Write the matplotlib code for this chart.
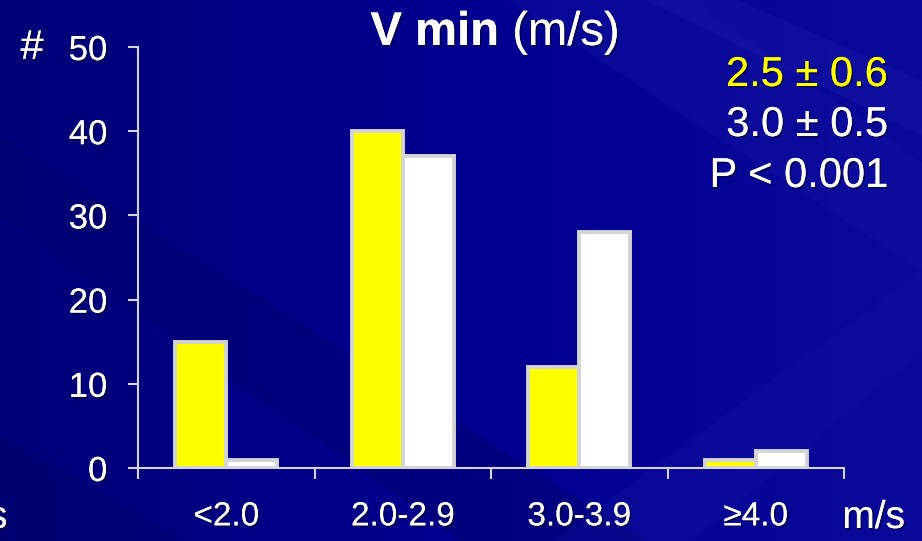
import numpy as np
import matplotlib
matplotlib.use("Agg")
import matplotlib.pyplot as plt
from matplotlib.patches import Polygon
import matplotlib.patheffects as pe

# data
categories = ["<2.0", "2.0-2.9", "3.0-3.9", "≥4.0"]
yellow_vals = [15, 40, 12, 1]
white_vals = [1, 37, 28, 2]
y_ticks = [0, 10, 20, 30, 40, 50]

plt.rcParams['font.family'] = ['Liberation Sans', 'DejaVu Sans']

fig = plt.figure(figsize=(9.22, 5.41), dpi=100)
fig.patch.set_facecolor('#00008a')

# background with diagonal streaks
bg = fig.add_axes([0, 0, 1, 1], zorder=-10)
bg.set_xlim(0, 1)
bg.set_ylim(0, 1)
bg.axis('off')
grad = np.linspace(0, 1, 256).reshape(1, -1)
bg.imshow(np.vstack([grad, grad]), extent=[0, 1, 0, 1], aspect='auto',
          cmap=matplotlib.colors.LinearSegmentedColormap.from_list(
              'b', ['#000078', '#000090', '#0a0a9a']))
streaks = [
    ([(0.55, 1.0), (0.75, 1.0), (1.0, 0.7), (1.0, 0.5)], '#1515a5', 0.35),
    ([(0.0, 0.75), (0.0, 0.6), (0.5, 0.0), (0.7, 0.0)], '#000070', 0.5),
    ([(0.0, 0.2), (0.0, 0.0), (0.2, 0.0)], '#00006a', 0.5),
    ([(0.7, 1.0), (0.8, 1.0), (1.0, 0.85), (1.0, 0.75)], '#2020b0', 0.3),
    ([(0.6, 0.0), (0.75, 0.0), (1.0, 0.35), (1.0, 0.5)], '#1212a0', 0.35),
]
for pts, c, a in streaks:
    bg.add_patch(Polygon(pts, closed=True, facecolor=c, edgecolor='none', alpha=a))

ax = fig.add_axes([138 / 922, 1 - 468 / 541, (844 - 138) / 922, (468 - 47) / 541])
ax.set_facecolor('none')

x = np.arange(len(categories))
w = 0.29
edge = '#d4d4d4'
ax.bar(x - w / 2, yellow_vals, w, color='#ffff00', edgecolor=edge, linewidth=2.8, zorder=3)
ax.bar(x + w / 2, white_vals, w, color='#ffffff', edgecolor=edge, linewidth=2.8, zorder=3)

ax.set_xlim(-0.5, len(categories) - 0.5)
ax.set_ylim(0, 50)
ax.set_yticks(y_ticks)
ax.set_xticks(np.arange(len(categories) + 1) - 0.5)
ax.set_xticklabels([])
ax.set_xticks(x, minor=True)
ax.set_xticklabels(categories, minor=True)

for s in ['top', 'right']:
    ax.spines[s].set_visible(False)
for s in ['left', 'bottom']:
    ax.spines[s].set_color(edge)
    ax.spines[s].set_linewidth(1.5)

ax.tick_params(axis='y', colors=edge, labelcolor='white', labelsize=25, length=7, width=1.5, pad=15)
ax.tick_params(axis='x', which='major', colors=edge, length=8, width=1.5, direction='out')
ax.tick_params(axis='x', which='minor', length=0, labelcolor='white', labelsize=24, pad=24)

shadow = [pe.withSimplePatchShadow(offset=(1.2, -1.2), shadow_rgbFace='black', alpha=0.45), pe.Normal()]
for lab in ax.get_yticklabels() + ax.get_xticklabels(minor=True):
    lab.set_path_effects(shadow)

# title: bold part + regular part, centred together
ty = 1 - 33 / 541
t1 = fig.text(0, ty, "V min", fontsize=34, fontweight='bold', color='white',
              ha='left', va='center', path_effects=shadow)
t2 = fig.text(0, ty, " (m/s)", fontsize=34, color='white', ha='left', va='center',
              path_effects=shadow)
r = fig.canvas.get_renderer()
w1 = t1.get_window_extent(r).width / 922
w2 = t2.get_window_extent(r).width / 922
x0 = 495 / 922 - (w1 + w2) / 2
t1.set_x(x0)
t2.set_x(x0 + w1)

fig.text(32 / 922, 1 - 48 / 541, "#", fontsize=30, color='white', ha='center', va='center',
         path_effects=shadow)
fig.text(905 / 922, 1 - 518 / 541, "m/s", fontsize=28, color='white', ha='right', va='center',
         path_effects=shadow)
fig.text(-12 / 922, 1 - 518 / 541, "s", fontsize=28, color='white', ha='left', va='center',
         path_effects=shadow)

fig.text(888 / 922, 1 - 75 / 541, "2.5 ± 0.6", fontsize=30, color='#ffff00', ha='right', va='center',
         path_effects=shadow)
fig.text(888 / 922, 1 - 125 / 541, "3.0 ± 0.5", fontsize=30, color='white', ha='right', va='center',
         path_effects=shadow)
fig.text(888 / 922, 1 - 176 / 541, "P < 0.001", fontsize=30, color='white', ha='right', va='center',
         path_effects=shadow)

fig.savefig("out.png", dpi=100, facecolor=fig.get_facecolor())
